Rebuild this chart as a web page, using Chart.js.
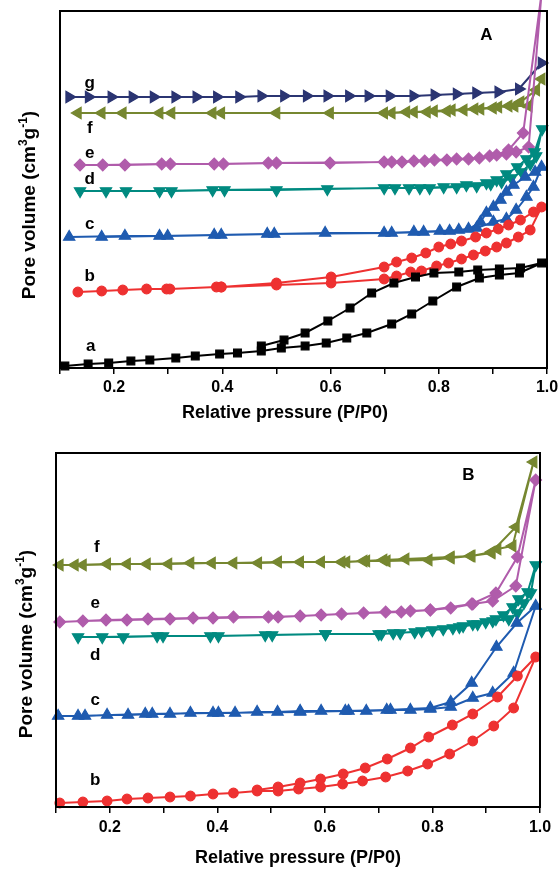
<!DOCTYPE html>
<html lang="en">
<head>
<meta charset="UTF-8">
<title>Pore volume isotherms</title>
<script src="https://cdn.jsdelivr.net/npm/chart.js"></script>
<style>
  body { margin: 0; background: #fff; }
  canvas { position: absolute; left: 0; }
  #panelA { top: 0; }
  #panelB { top: 430px; }
</style>
</head>
<body>
<canvas id="panelA" width="558" height="430"></canvas>
<canvas id="panelB" width="558" height="442"></canvas>
<script>
// x axis ticks (relative pressure)
const xTickMarks = [0.1, 0.2, 0.3, 0.4, 0.5, 0.6, 0.7, 0.8, 0.9, 1.0];
const xLabelTicks = [0.2, 0.4, 0.6, 0.8, 1.0];
const xLabelText = ['0.2', '0.4', '0.6', '0.8', '1.0'];

// ---- Panel A : [P/P0, pore volume (arb.)], adsorption then desorption ----
const A_a_ads = [[0.109,2],[0.152,4],[0.190,5],[0.231,7],[0.266,8],[0.314,10],[0.350,12],[0.395,14],[0.428,15],[0.472,17],[0.509,20],[0.553,22],[0.592,25],[0.630,30],[0.667,35],[0.713,44],[0.750,54],[0.789,67],[0.833,81],[0.875,90],[0.912,93],[0.949,95],[0.990,105]];
const A_a_des = [[0.951,100],[0.912,99],[0.872,98],[0.837,96],[0.791,95],[0.757,91],[0.717,85],[0.676,75],[0.636,60],[0.595,47],[0.553,35],[0.514,28],[0.472,22]];

const A_b_ads = [[0.133,76],[0.177,77],[0.216,78],[0.260,79],[0.297,79],[0.303,79],[0.389,81],[0.398,81],[0.500,83],[0.601,85],[0.699,89],[0.722,92],[0.748,96],[0.768,97],[0.796,102],[0.818,105],[0.842,109],[0.864,113],[0.886,117],[0.907,121],[0.925,125],[0.947,131],[0.969,138],[0.990,161]];
const A_b_des = [[0.975,156],[0.951,148],[0.929,143],[0.910,139],[0.888,135],[0.868,131],[0.842,127],[0.822,124],[0.800,121],[0.776,115],[0.750,110],[0.722,106],[0.699,101],[0.601,91],[0.500,85],[0.398,81]];

const A_c_ads = [[0.117,131],[0.220,132],[0.299,132],[0.398,133],[0.496,134],[0.590,135],[0.699,135],[0.754,136],[0.802,137],[0.837,138],[0.870,140],[0.901,146],[0.925,149],[0.943,158],[0.962,171],[0.975,181],[0.990,201]];
const A_c_des = [[0.978,196],[0.960,191],[0.938,183],[0.925,176],[0.914,168],[0.901,161],[0.888,155],[0.877,146],[0.855,139],[0.820,137],[0.772,136],[0.713,135],[0.483,134],[0.385,133],[0.284,132],[0.177,131]];

const A_d_ads = [[0.137,177],[0.222,177],[0.306,177],[0.404,178],[0.500,178],[0.594,179],[0.699,180],[0.745,180],[0.783,180],[0.833,181],[0.870,182],[0.896,184],[0.916,186],[0.934,190],[0.953,196],[0.969,204],[0.980,212],[0.991,239]];
const A_d_des = [[0.977,216],[0.962,209],[0.945,201],[0.925,194],[0.907,188],[0.888,185],[0.851,183],[0.809,181],[0.765,180],[0.719,180],[0.382,178],[0.284,177],[0.185,177]];

const A_e_ads = [[0.137,203],[0.220,203],[0.304,204],[0.402,204],[0.500,205],[0.599,205],[0.699,206],[0.732,206],[0.774,207],[0.815,208],[0.855,209],[0.894,212],[0.925,214],[0.943,216],[0.966,221],[0.990,375]];
const A_e_des = [[0.956,235],[0.929,218],[0.907,213],[0.875,210],[0.833,209],[0.792,208],[0.754,207],[0.713,206],[0.485,205],[0.385,204],[0.288,204],[0.179,203]];

const A_f_ads = [[0.133,255],[0.216,255],[0.306,255],[0.398,255],[0.500,255],[0.599,255],[0.713,255],[0.754,256],[0.791,257],[0.824,258],[0.866,259],[0.910,261],[0.940,262],[0.966,262],[0.990,289]];
const A_f_des = [[0.980,278],[0.951,266],[0.929,262],[0.900,260],[0.877,259],[0.846,258],[0.815,257],[0.778,256],[0.740,256],[0.699,255],[0.382,255],[0.284,255],[0.177,255]];

const A_g_ads = [[0.117,271],[0.153,271],[0.195,271],[0.234,271],[0.273,271],[0.313,271],[0.352,271],[0.390,271],[0.431,271],[0.472,272],[0.514,272],[0.556,272],[0.594,272],[0.634,272],[0.670,272],[0.709,272],[0.753,272],[0.792,273],[0.833,274],[0.869,275],[0.910,276],[0.948,279],[0.990,305]];
const A_g_des = [];

// ---- Panel B ----
const B_b_ads = [[0.107,4],[0.150,5],[0.195,6],[0.232,8],[0.271,9],[0.312,10],[0.350,11],[0.392,13],[0.430,14],[0.474,16],[0.513,16],[0.551,18],[0.592,20],[0.633,23],[0.670,26],[0.713,30],[0.754,36],[0.791,43],[0.832,53],[0.875,66],[0.914,81],[0.951,99],[0.992,150]];
const B_b_des = [[0.958,131],[0.921,110],[0.875,93],[0.837,82],[0.793,70],[0.759,59],[0.716,48],[0.675,39],[0.634,33],[0.592,28],[0.554,24],[0.513,20],[0.474,17]];

const B_c_ads = [[0.104,91],[0.154,91],[0.195,92],[0.234,92],[0.279,93],[0.312,93],[0.350,94],[0.402,94],[0.433,94],[0.474,95],[0.512,95],[0.554,96],[0.593,96],[0.644,96],[0.677,96],[0.722,97],[0.759,97],[0.796,98],[0.834,100],[0.875,109],[0.912,114],[0.951,134],[0.992,201]];
const B_c_des = [[0.957,184],[0.919,160],[0.873,124],[0.834,105],[0.796,99],[0.715,97],[0.638,96],[0.554,95],[0.392,94],[0.266,93],[0.141,91]];

const B_d_ads = [[0.141,170],[0.225,170],[0.299,171],[0.402,171],[0.489,172],[0.601,173],[0.700,173],[0.740,174],[0.780,176],[0.820,178],[0.850,180],[0.884,183],[0.912,186],[0.942,188],[0.958,194],[0.970,204],[0.983,214],[0.992,242]];
const B_d_des = [[0.977,215],[0.960,208],[0.949,200],[0.932,192],[0.918,188],[0.899,185],[0.875,183],[0.857,181],[0.838,179],[0.800,177],[0.767,175],[0.727,174],[0.705,173],[0.601,173],[0.502,172],[0.387,171],[0.288,171],[0.186,170]];

const B_e_ads = [[0.107,185],[0.193,187],[0.271,188],[0.355,189],[0.430,190],[0.495,190],[0.554,191],[0.631,193],[0.713,195],[0.759,196],[0.796,197],[0.834,199],[0.875,203],[0.912,206],[0.955,221],[0.992,327]];
const B_e_des = [[0.958,250],[0.918,214],[0.873,203],[0.796,197],[0.742,195],[0.672,194],[0.593,192],[0.513,190],[0.392,189],[0.312,188],[0.232,187],[0.150,186]];

const B_f_ads = [[0.107,242],[0.150,242],[0.232,243],[0.309,243],[0.390,244],[0.476,244],[0.554,245],[0.640,245],[0.677,246],[0.715,246],[0.793,247],[0.834,249],[0.871,251],[0.910,254],[0.921,258],[0.949,261],[0.988,345]];
const B_f_des = [[0.955,280],[0.910,255],[0.873,251],[0.834,250],[0.750,248],[0.709,247],[0.672,246],[0.631,245],[0.593,245],[0.513,245],[0.430,244],[0.350,244],[0.269,243],[0.195,243],[0.135,242]];

const FONT = 'Arial, "Liberation Sans", sans-serif';

function series(ads, des, color, style, rot, r) {
  return {
    data: ads.concat(des).map(d => ({x: d[0], y: d[1]})),
    showLine: true,
    borderColor: color,
    backgroundColor: color,
    borderWidth: 2,
    pointStyle: style,
    pointRotation: rot,
    pointRadius: r,
    pointBorderWidth: 1.2,
    pointBackgroundColor: color,
    pointBorderColor: color,
    clip: false
  };
}

function drawYTitle(ctx, cx, cy) {
  const runs = [['Pore volume (cm', false], ['3', true], ['g', false], ['-1', true], [')', false]];
  const big = 'bold 19px ' + FONT, small = 'bold 12px ' + FONT;
  let total = 0;
  runs.forEach(r => { ctx.font = r[1] ? small : big; total += ctx.measureText(r[0]).width; });
  ctx.save();
  ctx.translate(cx, cy);
  ctx.rotate(-Math.PI / 2);
  ctx.textAlign = 'left';
  ctx.textBaseline = 'alphabetic';
  let x = -total / 2;
  runs.forEach(r => {
    ctx.font = r[1] ? small : big;
    ctx.fillText(r[0], x, r[1] ? -1 : 7);
    x += ctx.measureText(r[0]).width;
  });
  ctx.restore();
}

const panelDecor = {
  id: 'panelDecor',
  afterDraw(chart, args, opts) {
    const {ctx, chartArea: ca} = chart;
    const x = chart.scales.x, y = chart.scales.y;
    ctx.save();
    ctx.strokeStyle = '#000';
    ctx.lineWidth = 2;
    ctx.strokeRect(ca.left, ca.top, ca.right - ca.left, ca.bottom - ca.top);
    ctx.fillStyle = '#000';
    ctx.textAlign = 'center';
    ctx.textBaseline = 'middle';
    ctx.font = 'bold 17px ' + FONT;
    opts.tags.forEach(t => ctx.fillText(t[0], x.getPixelForValue(t[1]), y.getPixelForValue(t[2])));
    ctx.fillText(opts.panel[0], x.getPixelForValue(opts.panel[1]), y.getPixelForValue(opts.panel[2]));
    ctx.font = 'bold 18px ' + FONT;
    ctx.fillText('Relative pressure (P/P0)', opts.xTitle[0], opts.xTitle[1]);
    drawYTitle(ctx, opts.yTitle[0], opts.yTitle[1]);
    ctx.restore();
  }
};

function makeChart(id, datasets, yMax, pad, yW, xH, tickPad, decor) {
  return new Chart(document.getElementById(id), {
    type: 'scatter',
    data: { datasets: datasets },
    options: {
      responsive: false,
      animation: false,
      layout: { padding: pad },
      plugins: { legend: { display: false }, tooltip: { enabled: false }, panelDecor: decor },
      scales: {
        x: {
          type: 'linear', min: 0.1, max: 1.0,
          afterBuildTicks: s => { s.ticks = xTickMarks.map(v => ({value: v})); },
          afterFit: s => { s.height = xH; s.paddingLeft = 0; s.paddingRight = 0; },
          ticks: {
            autoSkip: false, maxRotation: 0, padding: tickPad, color: '#000',
            font: { family: FONT, size: 16, weight: 'bold' },
            callback: v => {
              const i = xLabelTicks.findIndex(t => Math.abs(t - v) < 1e-6);
              return i >= 0 ? xLabelText[i] : '';
            }
          },
          grid: { drawOnChartArea: false, drawTicks: true, tickLength: 6, color: '#000', lineWidth: 1.5 },
          border: { display: true, color: '#000', width: 2 }
        },
        y: {
          min: 0, max: yMax,
          ticks: { display: false },
          grid: { display: false },
          border: { display: true, color: '#000', width: 2 },
          afterFit: s => { s.width = yW; s.paddingTop = 0; s.paddingBottom = 0; }
        }
      }
    },
    plugins: [panelDecor]
  });
}

const COL = { a: '#000000', b: '#ee3131', c: '#1f5bb0', d: '#008a80', e: '#b05cab', f: '#768730', g: '#2b3572' };

makeChart('panelA', [
  series(A_a_ads, A_a_des, COL.a, 'rect', 0, 5.5),
  series(A_b_ads, A_b_des, COL.b, 'circle', 0, 4.8),
  series(A_c_ads, A_c_des, COL.c, 'triangle', 0, 6.5),
  series(A_d_ads, A_d_des, COL.d, 'triangle', 180, 6.5),
  series(A_e_ads, A_e_des, COL.e, 'rectRot', 0, 5.8),
  series(A_f_ads, A_f_des, COL.f, 'triangle', 270, 6.5),
  series(A_g_ads, A_g_des, COL.g, 'triangle', 90, 6.5)
], 357, { left: 0, top: 11, right: 11, bottom: 0 }, 60, 62, 4, {
  tags: [['g', 0.155, 285], ['f', 0.155, 240], ['e', 0.155, 215], ['d', 0.155, 189], ['c', 0.155, 144], ['b', 0.155, 92], ['a', 0.157, 22]],
  panel: ['A', 0.888, 333],
  xTitle: [285, 413],
  yTitle: [28, 205]
});

makeChart('panelB', [
  series(B_b_ads, B_b_des, COL.b, 'circle', 0, 4.8),
  series(B_c_ads, B_c_des, COL.c, 'triangle', 0, 6.5),
  series(B_d_ads, B_d_des, COL.d, 'triangle', 180, 6.5),
  series(B_e_ads, B_e_des, COL.e, 'rectRot', 0, 5.8),
  series(B_f_ads, B_f_des, COL.f, 'triangle', 270, 6.5)
], 354, { left: 0, top: 23, right: 18, bottom: 0 }, 56, 65, 5, {
  tags: [['f', 0.176, 260], ['e', 0.173, 204], ['d', 0.173, 152], ['c', 0.173, 107], ['b', 0.173, 27]],
  panel: ['B', 0.867, 332],
  xTitle: [298, 428],
  yTitle: [25, 214]
});
</script>
</body>
</html>
